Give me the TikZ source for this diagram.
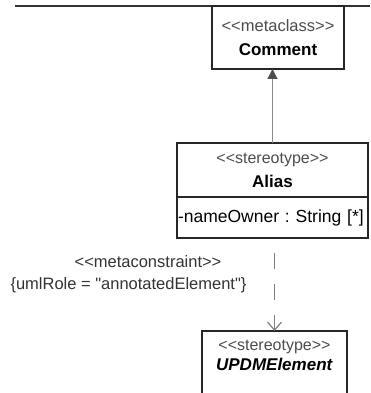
\documentclass[tikz,border=0pt]{standalone}
\usepackage{fontspec}
\newfontfamily\umlfont{Liberation Sans}
\usetikzlibrary{arrows.meta,positioning}
\newcommand{\umlst}[1]{<\kern0pt<#1>\kern0pt>}
\frenchspacing

\begin{document}
\begin{tikzpicture}[
  x=1pt, y=-1pt,
  font=\umlfont\fontsize{17}{20}\selectfont,
  umlclass/.style={rectangle, draw=black!85, line width=1.4pt, fill=white,
    align=center, inner sep=2pt, outer sep=0pt},
  attr/.style={umlclass, align=left, text width=189pt, inner xsep=1pt,
    minimum height=41pt, font=\umlfont\fontsize{17.5}{20}\selectfont},
  cons/.style={font=\umlfont\fontsize{16.5}{19}\selectfont, text=black!80},
  gen/.style={-{Triangle[length=10pt,width=10pt,color=black!70]},
    draw=black!45, line width=1.2pt},
  dep/.style={-{Straight Barb[length=8pt,width=14pt]}, draw=black!50,
    line width=1.2pt, dash pattern=on 16pt off 15pt, dash phase=16pt}
]
\useasboundingbox (0,0) rectangle (370,393);
\clip (0,0) rectangle (370,393);

% rule at the top of the page
\coordinate (rulestart) at (15,6);
\coordinate (ruleend) at (370,6);
\draw[line width=2pt, black!80] (rulestart) -- (ruleend);

\node[umlclass, minimum width=132pt, minimum height=63pt] (comment) at (278,37.5)
  {{\color{black!70}\fontsize{16.5}{19}\selectfont\umlst{metaclass}}\\[4pt]\textbf{Comment}};

\node[umlclass, minimum width=191pt, minimum height=54pt] (aliashead) at (272.5,170)
  {{\color{black!70}\fontsize{16}{19}\selectfont\umlst{stereotype}}\\[4pt]\textbf{Alias}};
\node[attr, below=0pt of aliashead] (aliasattr) {\mbox{-nameOwner : String [*]}};

\node[umlclass, minimum width=145pt, minimum height=64pt, anchor=north,
  text depth=16pt] (updm) at (274.5,331)
  {{\color{black!70}\fontsize{16}{19}\selectfont\umlst{stereotype}}\\\textbf{\textit{UPDMElement}}};

\node[cons] (metacons) at (148,262) {\umlst{metaconstraint}};
\node[cons] (umlrole) at (128.5,285) {\{umlRole = "annotatedElement"\}};

\draw[gen] (aliashead.north) -- (aliashead.north |- comment.south);
\draw[dep] (updm.north |- aliasattr.south) -- (updm.north);
\end{tikzpicture}
\end{document}
